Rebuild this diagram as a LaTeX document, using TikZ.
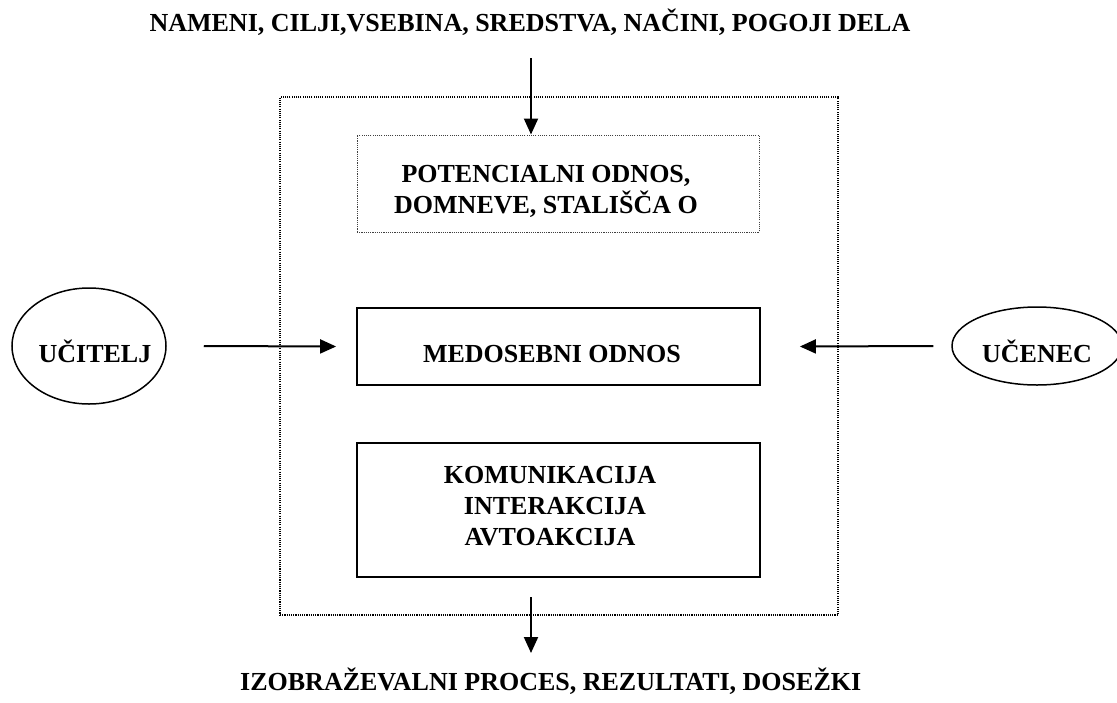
\documentclass[tikz,border=0pt]{standalone}
\usepackage{fontspec}
\setmainfont{Liberation Serif}
\usetikzlibrary{arrows.meta,shapes.geometric}
\begin{document}
\begin{tikzpicture}[x=1pt,y=-1pt,
  txt/.style={font=\fontsize{26}{30}\selectfont\bfseries, inner sep=0pt},
  solidbox/.style={draw, line width=1.8pt, minimum width=403pt, inner sep=0pt},
  dotbox/.style={draw, line width=1.2pt, dash pattern=on 1.1pt off 1.1pt, inner sep=0pt},
  oval/.style={draw, ellipse, line width=1.5pt, inner sep=0pt},
  arr/.style={line width=2pt, -{Triangle[length=16pt,width=14pt]}}]
\useasboundingbox (0,0) rectangle (1117,702);

% frames
\node[dotbox, minimum width=558pt, minimum height=518pt] (outer) at (559,356) {};
\node[dotbox, draw=black!75, line width=1pt, minimum width=402pt, minimum height=97pt] (pot) at (558,183.5) {};
\node[solidbox, minimum height=77pt] (med) at (558.5,346.5) {};
\node[solidbox, minimum height=134pt] (kom) at (558.5,510) {};
\node[oval, minimum width=154pt, minimum height=116pt] (ucitelj) at (89,346) {};
\node[oval, minimum width=170pt, minimum height=78pt] (ucenec) at (1037,346) {};

% labels
\node[txt, anchor=base] (goals) at (530,31) {NAMENI, CILJI,VSEBINA, SREDSTVA, NAČINI, POGOJI DELA};
\node[txt, anchor=base west] (results) at (240,690) {IZOBRAŽEVALNI PROCES, REZULTATI, DOSEŽKI};
\node[txt, anchor=base] (pota) at (546,182) {POTENCIALNI ODNOS,};
\node[txt, anchor=base] (potb) at (546,213) {DOMNEVE, STALIŠČA O};
\node[txt, anchor=base] (medt) at (552,362) {MEDOSEBNI ODNOS};
\node[txt, anchor=base] (koma) at (550,483) {KOMUNIKACIJA};
\node[txt, anchor=base] (komb) at (555,514) {INTERAKCIJA};
\node[txt, anchor=base] (komc) at (550,545) {AVTOAKCIJA};
\node[txt, anchor=base] (ucitt) at (95,362) {UČITELJ};
\node[txt, anchor=base] (ucent) at (1037,362) {UČENEC};

% connectors
\coordinate (topin) at (531,58);
\coordinate (botin) at (531,597);
\coordinate (botout) at (531,653);
\draw[arr] (topin) -- (topin |- pot.north);
\draw[arr] ([xshift=37pt]ucitelj.east) -- ([xshift=-20pt]med.west);
\draw[arr] ([xshift=-18pt]ucenec.west) -- ([xshift=39pt]med.east);
\draw[arr] (botin) -- (botout);
\end{tikzpicture}
\end{document}
